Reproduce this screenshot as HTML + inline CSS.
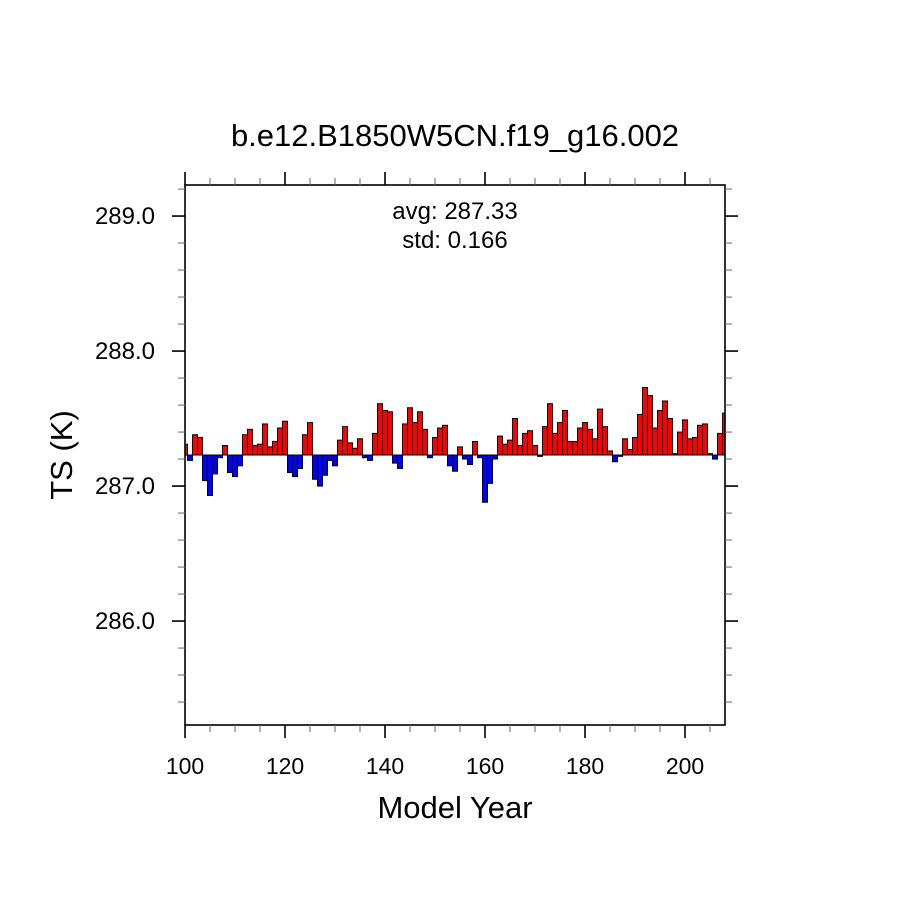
<!DOCTYPE html>
<html><head><meta charset="utf-8"><style>
html,body{margin:0;padding:0;background:#fff;}
svg text{font-family:"Liberation Sans",Arial,sans-serif;fill:#000;}
</style></head><body>
<svg id="chart" width="910" height="910" viewBox="0 0 910 910" xmlns="http://www.w3.org/2000/svg">
<rect width="910" height="910" fill="#fff"/>
<text x="455" y="146" font-size="31" text-anchor="middle">b.e12.B1850W5CN.f19_g16.002</text>
<text x="455" y="219" font-size="24" text-anchor="middle">avg: 287.33</text>
<text x="455" y="248" font-size="24" text-anchor="middle">std:  0.166</text>
<text x="455" y="818" font-size="31" text-anchor="middle">Model Year</text>
<text transform="translate(72,455) rotate(-90)" font-size="31" text-anchor="middle">TS (K)</text>
<g id="bars"></g>
<g id="axes"></g>
</svg>
<script>
const years = [];
for (let y = 100; y <= 208; y++) years.push(y);
const tsValues = [287.31,287.19,287.38,287.36,287.04,286.93,287.09,287.21,287.30,287.10,
287.07,287.15,287.38,287.42,287.30,287.31,287.46,287.29,287.33,287.43,
287.48,287.10,287.07,287.13,287.38,287.47,287.05,287.00,287.08,287.19,
287.15,287.34,287.44,287.32,287.28,287.35,287.21,287.19,287.39,287.61,
287.56,287.55,287.17,287.13,287.46,287.58,287.47,287.55,287.42,287.21,
287.36,287.43,287.45,287.15,287.11,287.29,287.20,287.16,287.33,287.21,
286.88,287.02,287.20,287.37,287.31,287.34,287.50,287.30,287.39,287.41,
287.30,287.22,287.44,287.61,287.39,287.47,287.56,287.33,287.33,287.43,
287.47,287.42,287.35,287.57,287.44,287.26,287.18,287.22,287.35,287.27,
287.36,287.53,287.73,287.67,287.43,287.56,287.63,287.50,287.24,287.40,
287.49,287.35,287.36,287.45,287.46,287.24,287.20,287.39,287.54];
const refValue = 287.23;
const xTickLabels = [100,120,140,160,180,200];
const yTickLabels = ["286.0","287.0","288.0","289.0"];

const L=185,R=725,T=185,B=725;
const xMin=100,xMax=208,yMin=285.23,yMax=289.23;
const sx=v=>L+(v-xMin)/(xMax-xMin)*(R-L);
const sy=v=>B-(v-yMin)/(yMax-yMin)*(B-T);
const NS="http://www.w3.org/2000/svg";
function mk(tag,attrs,parent){const e=document.createElementNS(NS,tag);for(const k in attrs)e.setAttribute(k,attrs[k]);parent.appendChild(e);return e;}

const svg=document.getElementById('chart');
const defs=mk('defs',{},svg);
const cp=mk('clipPath',{id:'plotclip'},defs);
mk('rect',{x:L,y:T,width:R-L,height:B-T},cp);
const bars=document.getElementById('bars');
bars.setAttribute('clip-path','url(#plotclip)');
const bw=sx(1)-sx(0);
const y0=sy(refValue);
years.forEach((yr,i)=>{
  const v=tsValues[i];
  const yv=sy(v);
  const r=mk('rect',{x:sx(yr)-bw/2,y:Math.min(yv,y0),width:bw,height:Math.max(Math.abs(yv-y0),0.5),fill:v>=refValue?'#ff0000':'#0000ff',stroke:'#000','stroke-width':1},bars);
  
  
});
const axes=document.getElementById('axes');
const frame=mk('rect',{x:L,y:T,width:R-L,height:B-T,fill:'none',stroke:'#000','stroke-width':1.6},axes);


for(let v=100;v<=208;v+=5){
  const x=sx(v),maj=(v%20===0),len=maj?13:7,sw=maj?1.6:1,c=maj?'#000':'#666';
  const t1=mk('line',{x1:x,y1:B,x2:x,y2:B+len,stroke:c,'stroke-width':sw},axes);
  
  
  const t2=mk('line',{x1:x,y1:T,x2:x,y2:T-len,stroke:c,'stroke-width':sw},axes);
  
  
}
xTickLabels.forEach(v=>{
  const t=mk('text',{x:sx(v),y:774,'font-size':23,'text-anchor':'middle'},axes);
  t.textContent=v;
  
  
});
for(let k=-4;k<=20;k++){
  const v=286+k*0.2;
  if(v<yMin-1e-6||v>yMax+1e-6)continue;
  const y=sy(v),maj=(k%5===0),len=maj?13:7,sw=maj?1.6:1,c=maj?'#000':'#666';
  const a=mk('line',{x1:L,y1:y,x2:L-len,y2:y,stroke:c,'stroke-width':sw},axes);
  
  
  const b=mk('line',{x1:R,y1:y,x2:R+len,y2:y,stroke:c,'stroke-width':sw},axes);
  
  
}
yTickLabels.forEach(s=>{
  const t=mk('text',{x:155,y:sy(parseFloat(s))+8,'font-size':24,'text-anchor':'end'},axes);
  t.textContent=s;
  
  
});
</script>
</body></html>
